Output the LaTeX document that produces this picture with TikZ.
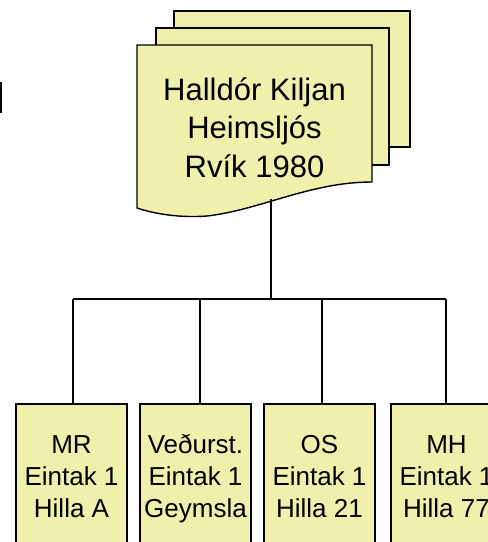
\documentclass[tikz,border=0pt]{standalone}
\usepackage{fontspec}
\setmainfont{Liberation Sans}
\definecolor{docfill}{RGB}{238,240,172}
\begin{document}
\begin{tikzpicture}[x=1pt,y=-1pt,
  sheet/.style={draw=black,fill=docfill,line width=1.4pt},
  conn/.style={draw=black,line width=1.3pt},
  toptext/.style={align=center,inner sep=0pt,font=\fontsize{31}{38.5}\selectfont},
  boxtext/.style={align=center,inner sep=0pt,font=\fontsize{26}{32}\selectfont},
  leaf/.style={sheet}]
\useasboundingbox (0,0) rectangle (488,542);
\clip (0,0) rectangle (488,542);
% left edge bar
\fill[black] (0,82) rectangle (2,113);
% stacked sheets
\path[sheet] (174,11) rectangle (410,147);
\path[sheet] (156,28) rectangle (389,165);
\path[sheet] (137,45) -- (372,45) -- (372,182)
  .. controls (310,182) and (260,210) .. (207,216)
  .. controls (180,218) and (155,214) .. (137,208) -- cycle;
\node[toptext] (doc) at (254.5,130.8) {\strut Halldór Kiljan\\Heimsljós\\Rvík 1980\strut};
\coordinate (docbot) at (271,199);
\coordinate (hub) at (271,299);
% leaf boxes
\path[leaf] (16,404) rectangle (127,560);
\path[leaf] (140,404) rectangle (251,560);
\path[leaf] (264,404) rectangle (375,560);
\path[leaf] (391,404) rectangle (502,560);
\coordinate (t1) at (73,404);
\coordinate (t2) at (200,404);
\coordinate (t3) at (322,404);
\coordinate (t4) at (446,404);
\node[boxtext] (b1) at (71.5,478.6) {\strut MR\\Eintak 1\\Hilla A\strut};
\node[boxtext] (b2) at (195.5,478.6) {\strut Veðurst.\\Eintak 1\\Geymsla\strut};
\node[boxtext] (b3) at (319.5,478.6) {\strut OS\\Eintak 1\\Hilla 21\strut};
\node[boxtext] (b4) at (446.5,478.6) {\strut MH\\Eintak 1\\Hilla 77\strut};
% connectors
\draw[conn] (docbot) -- (hub);
\draw[conn] (t1 |- hub) -- (t4 |- hub);
\draw[conn] (t1 |- hub) -- (t1);
\draw[conn] (t2 |- hub) -- (t2);
\draw[conn] (t3 |- hub) -- (t3);
\draw[conn] (t4 |- hub) -- (t4);
\end{tikzpicture}
\end{document}
